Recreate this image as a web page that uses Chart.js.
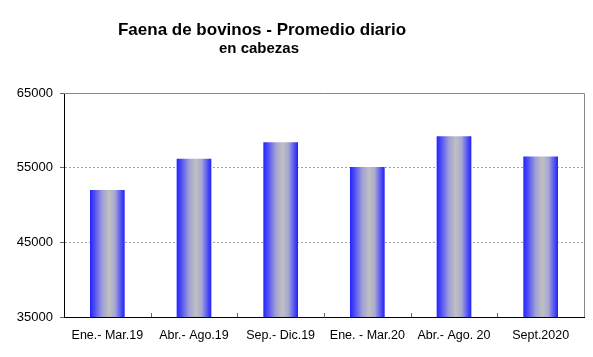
<!DOCTYPE html>
<html>
<head>
<meta charset="utf-8">
<script src="https://cdn.jsdelivr.net/npm/chart.js@4.4.1/dist/chart.umd.min.js"></script>
<style>
html,body{margin:0;padding:0;background:#fff;}
#wrap{width:593px;height:357px;position:relative;}
</style>
</head>
<body>
<div id="wrap"><canvas id="c" width="593" height="357"></canvas></div>
<script>
const categories = ["Ene.- Mar.19", "Abr.- Ago.19", "Sep.- Dic.19", "Ene. - Mar.20", "Abr.- Ago. 20", "Sept.2020"];
const faenaValues = [52000, 56200, 58400, 55100, 59200, 56500];
const yTicks = [35000, 45000, 55000, 65000];
const titleText = "Faena de bovinos - Promedio diario";
const subtitleText = "en cabezas";

const FONT = "'Liberation Sans', Arial, sans-serif";
const BAR_PCT = 0.4;

function barGradient(context) {
  const chart = context.chart;
  const area = chart.chartArea;
  if (!area || context.dataIndex === undefined) return '#3030ff';
  const xs = chart.scales.x;
  const cx = xs.getPixelForValue(context.dataIndex);
  const catW = (area.right - area.left) / categories.length;
  const w = catW * BAR_PCT;
  const g = chart.ctx.createLinearGradient(cx - w / 2, 0, cx + w / 2, 0);
  g.addColorStop(0, '#2323ff');
  g.addColorStop(0.12, '#4a4af6');
  g.addColorStop(0.35, '#9e9ed8');
  g.addColorStop(0.55, '#c0c0c0');
  g.addColorStop(0.72, '#a8a8d4');
  g.addColorStop(0.88, '#5858f0');
  g.addColorStop(1, '#2020ff');
  return g;
}

const decor = {
  id: 'decor',
  beforeDatasetsDraw(chart) {
    const ctx = chart.ctx, a = chart.chartArea;
    ctx.save();
    ctx.strokeStyle = '#888888';
    ctx.lineWidth = 1;
    ctx.beginPath();
    ctx.moveTo(a.left, a.top + 0.5);
    ctx.lineTo(a.right + 0.5, a.top + 0.5);
    ctx.lineTo(a.right + 0.5, a.bottom);
    ctx.stroke();
    ctx.restore();
  },
  afterDraw(chart) {
    const ctx = chart.ctx, a = chart.chartArea;
    const xs = chart.scales.x;
    ctx.save();
    ctx.strokeStyle = '#666666';
    ctx.lineWidth = 1;
    for (let i = 1; i < categories.length; i++) {
      const x = Math.round((xs.getPixelForValue(i - 1) + xs.getPixelForValue(i)) / 2) + 0.5;
      ctx.beginPath();
      ctx.moveTo(x, a.bottom);
      ctx.lineTo(x, a.bottom - 4);
      ctx.stroke();
    }
    ctx.fillStyle = '#000';
    ctx.textAlign = 'center';
    ctx.textBaseline = 'alphabetic';
    ctx.font = "bold 17px " + FONT;
    ctx.fillText(titleText, 262, 35);
    ctx.font = "bold 15px " + FONT;
    ctx.fillText(subtitleText, 259, 53);
    ctx.restore();
  }
};

new Chart(document.getElementById('c'), {
  type: 'bar',
  data: {
    labels: categories,
    datasets: [{
      data: faenaValues,
      backgroundColor: barGradient,
      borderWidth: 0,
      categoryPercentage: 1,
      barPercentage: BAR_PCT
    }]
  },
  options: {
    responsive: false,
    animation: false,
    devicePixelRatio: 1,
    layout: { padding: { left: 0, right: 9, top: 93, bottom: 0 } },
    plugins: { legend: { display: false }, tooltip: { enabled: false }, title: { display: false } },
    scales: {
      x: {
        grid: { display: false },
        border: { display: true, color: '#000', width: 1 },
        ticks: { color: '#000', font: { family: FONT, size: 12.5 }, maxRotation: 0, autoSkip: false, padding: 3 },
        afterFit(s) { s.height = 40; }
      },
      y: {
        min: 35000, max: 65000,
        afterBuildTicks(s) { s.ticks = yTicks.map(v => ({ value: v })); },
        grid: {
          color: (c) => (c.tick && (c.tick.value === 35000 || c.tick.value === 65000)) ? 'rgba(0,0,0,0)' : '#a0a0a0',
          tickColor: '#666666',
          tickLength: 4,
          drawTicks: true
        },
        border: { display: true, color: '#000', width: 1, dash: [2, 2] },
        ticks: { color: '#000', font: { family: FONT, size: 13 }, padding: 7, callback: (v) => String(v) },
        afterFit(s) { s.width = 64; }
      }
    }
  },
  plugins: [decor]
});
</script>
</body>
</html>
